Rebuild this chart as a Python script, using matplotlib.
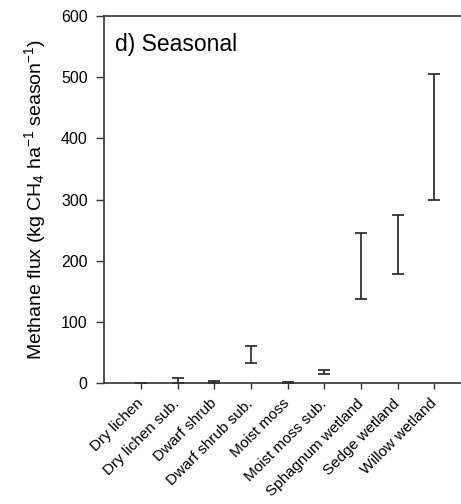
import matplotlib
matplotlib.use("Agg")
import matplotlib.pyplot as plt
import numpy as np

categories = ["Dry lichen", "Dry lichen sub.", "Dwarf shrub", "Dwarf shrub sub.",
              "Moist moss", "Moist moss sub.", "Sphagnum wetland", "Sedge wetland",
              "Willow wetland"]
low = [0, 1, 0, 33, 0, 15, 138, 179, 300]
high = [0.5, 8, 4, 61, 1.5, 21, 246, 275, 505]
yticks = [0, 100, 200, 300, 400, 500, 600]

plt.rcParams['font.family'] = ['Liberation Sans', 'DejaVu Sans']
plt.rcParams['mathtext.fontset'] = 'custom'
plt.rcParams['mathtext.rm'] = 'Liberation Sans'
plt.rcParams['mathtext.it'] = 'Liberation Sans:italic'

fig = plt.figure(figsize=(4.61, 5.04), dpi=100)
ax = fig.add_axes([0.2263, 0.2395, 0.7954, 0.7288])

x = np.arange(1, len(categories) + 1)
lo = np.array(low, float)
hi = np.array(high, float)
mid = (lo + hi) / 2
ax.errorbar(x, mid, yerr=[mid - lo, hi - mid], fmt='none', ecolor='#222222',
            elinewidth=1.2, capsize=4.5, capthick=1.2)

ax.set_xlim(0, 10)
ax.set_ylim(0, 600)
ax.set_yticks(yticks)
ax.set_xticks(x)
ax.set_xticklabels(categories, rotation=45, ha='right', va='center',
                   rotation_mode='anchor', fontsize=11)
ax.tick_params(axis='y', labelsize=11.5, direction='out', length=6, width=1,
               pad=6, colors='#333333', labelcolor='black')
ax.tick_params(axis='x', direction='out', length=4, width=1, pad=9,
               colors='#333333', labelcolor='black')
for s in ax.spines.values():
    s.set_color('#333333')
    s.set_linewidth(1.2)

ax.set_ylabel("Methane flux (kg CH$_4$ ha$^{-1}$ season$^{-1}$)", fontsize=14, labelpad=9)
ax.text(0.03, 0.955, "d) Seasonal", transform=ax.transAxes, fontsize=16.5,
        va='top', ha='left')

fig.savefig("out.png", dpi=100)
